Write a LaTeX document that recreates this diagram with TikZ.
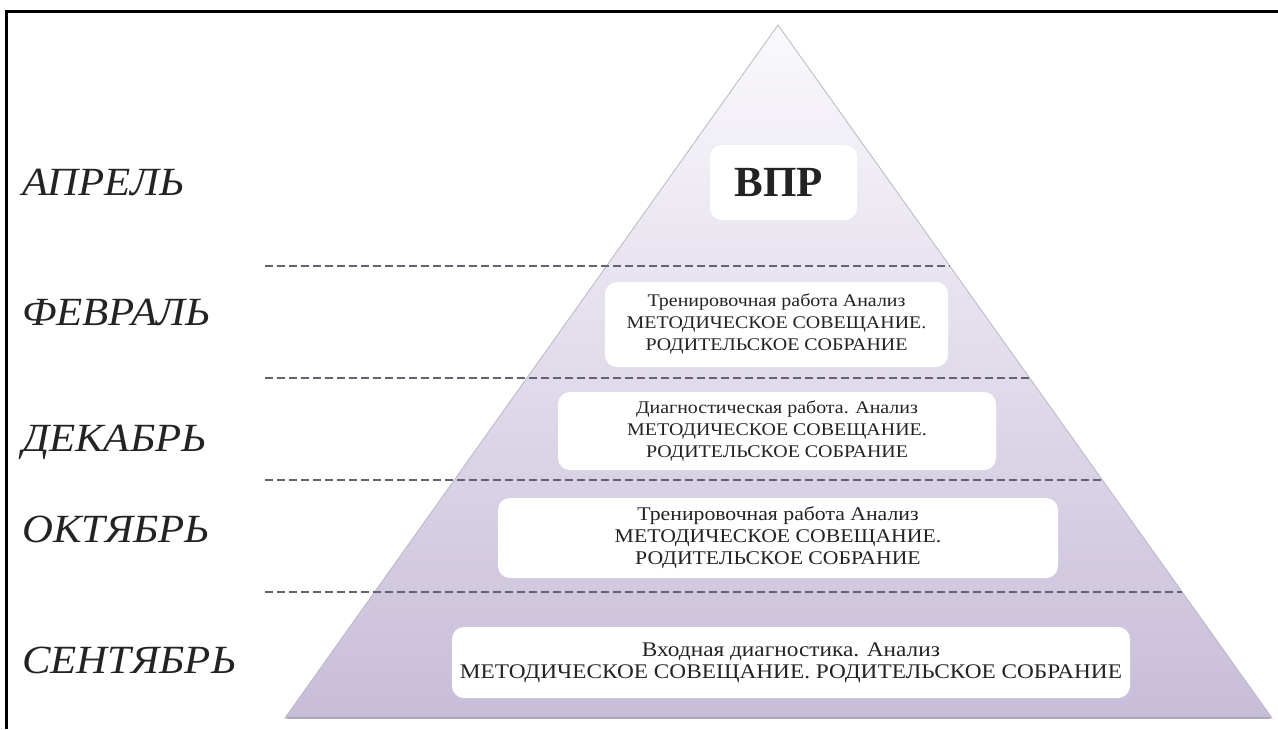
\documentclass[tikz,border=0pt]{standalone}
\usepackage{fontspec}
\setmainfont{Liberation Serif}
\newfontfamily\widefont[FakeStretch=1.12]{Liberation Serif}
\newfontfamily\widemonth[FakeStretch=1.07]{Liberation Serif}
\usetikzlibrary{calc}
\definecolor{pyrtop}{RGB}{250,249,252}
\definecolor{pyrbot}{RGB}{200,189,217}
\definecolor{pyredge}{RGB}{185,183,195}
\definecolor{pyrshadow}{RGB}{175,166,190}
\definecolor{dashcol}{RGB}{95,100,112}
\definecolor{txtcol}{RGB}{35,35,35}
\begin{document}
\begin{tikzpicture}[x=1pt,y=-1pt,
  frameline/.style={line width=3pt,black},
  dashline/.style={line width=1.5pt,dashcol,dash pattern=on 8pt off 4pt},
  month/.style={anchor=base west,inner sep=0pt,text=txtcol,font=\widemonth\fontsize{40}{42}\selectfont\itshape},
  stagebox/.style={fill=white,rounded corners=12pt,inner sep=0pt,align=center,text=txtcol},
  small/.style={font=\widefont\fontsize{17.8}{22}\selectfont},
  medium/.style={font=\widefont\fontsize{19.4}{22}\selectfont},
  large/.style={font=\widefont\fontsize{20.8}{22}\selectfont}]
\useasboundingbox (0,0) rectangle (1278,729);
\fill[white] (0,0) rectangle (1278,729);
% frame
\coordinate (ftl) at (6.5,11);
\coordinate (fbl) at (6.5,729);
\coordinate (ftr) at (1278,11);
\draw[frameline] (fbl) -- (ftl) -- (ftr);
% pyramid
\coordinate (apex) at (778,25);
\coordinate (bl) at (285,718);
\coordinate (br) at (1272,718);
\shadedraw[top color=pyrtop,bottom color=pyrbot,draw=pyredge,line width=0.8pt] (apex) -- (br) -- (bl) -- cycle;
\draw[pyrshadow,line width=2pt] ($(bl)+(2,0)$) coordinate (sl) -- ($(br)+(-2,0)$) coordinate (sr);
% dashed separators
\coordinate (d1l) at (265,266); \coordinate (d1r) at (950,266);
\coordinate (d2l) at (265,378); \coordinate (d2r) at (1030,378);
\coordinate (d3l) at (265,480); \coordinate (d3r) at (1102,480);
\coordinate (d4l) at (265,592); \coordinate (d4r) at (1182,592);
\draw[dashline] (d1l) -- (d1r);
\draw[dashline] (d2l) -- (d2r);
\draw[dashline] (d3l) -- (d3r);
\draw[dashline] (d4l) -- (d4r);
% boxes
\node[stagebox,minimum width=147pt,minimum height=75pt] (vpr) at (783.5,182.5) {};
\node[inner sep=0pt,text=txtcol,font=\fontsize{43}{46}\selectfont\bfseries] (vprt) at (779,182.5) {ВПР};
\node[stagebox,small,minimum width=343pt,minimum height=85pt] (feb) at (776.5,324.5) {Тренировочная работа Анализ\\МЕТОДИЧЕСКОЕ СОВЕЩАНИЕ.\\РОДИТЕЛЬСКОЕ СОБРАНИЕ};
\node[stagebox,small,minimum width=438pt,minimum height=78pt] (dec) at (777,431) {Диагностическая работа. Анализ\\МЕТОДИЧЕСКОЕ СОВЕЩАНИЕ.\\РОДИТЕЛЬСКОЕ СОБРАНИЕ};
\node[stagebox,medium,minimum width=560pt,minimum height=80pt] (oct) at (778,538) {Тренировочная работа Анализ\\МЕТОДИЧЕСКОЕ СОВЕЩАНИЕ.\\РОДИТЕЛЬСКОЕ СОБРАНИЕ};
\node[stagebox,large,minimum width=678pt,minimum height=71pt] (sep) at (791,662.5) {Входная диагностика. Анализ\\МЕТОДИЧЕСКОЕ СОВЕЩАНИЕ. РОДИТЕЛЬСКОЕ СОБРАНИЕ};
% months
\node[month] (apr) at (22,195) {АПРЕЛЬ};
\node[month] (febm) at (22,325) {ФЕВРАЛЬ};
\node[month] (decm) at (22,451) {ДЕКАБРЬ};
\node[month] (octm) at (22,542) {ОКТЯБРЬ};
\node[month] (sepm) at (22,673) {СЕНТЯБРЬ};
\end{tikzpicture}
\end{document}
